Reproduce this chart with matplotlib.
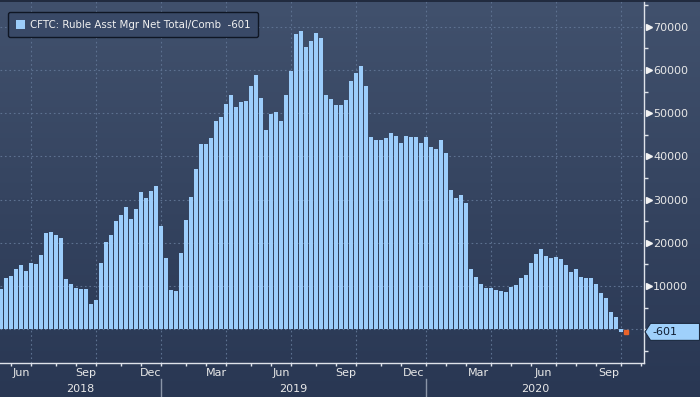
import numpy as np
import pandas as pd
import matplotlib
matplotlib.use('Agg')
import matplotlib.pyplot as plt
from matplotlib.transforms import blended_transform_factory
from matplotlib.patches import Polygon
from matplotlib.lines import Line2D

# weekly CFTC data (Tuesdays), May 22 2018 .. Oct 6 2020
start = '2018-05-22'
values = [
    9300, 11800, 12300, 13900, 14800, 13500, 15300, 15100, 17200, 22200,
    22600, 21800, 21200, 11600, 10500, 9500, 9300, 9300, 5800, 6800,
    15300, 20200, 21800, 25000, 26400, 28200, 25500, 27800, 31700, 30300,
    31900, 33200, 23800, 16500, 9100, 8800, 17600, 25200, 30500, 37000,
    42800, 42800, 44200, 48300, 49200, 52200, 54300, 51500, 52500, 52900,
    56200, 58900, 53600, 46000, 49700, 50200, 48300, 54300, 59800, 68200,
    69100, 65200, 66600, 68500, 67400, 54200, 53300, 51900, 51900, 53000,
    57500, 59400, 61000, 56200, 44400, 43700, 43700, 44200, 45300, 44800,
    43200, 44800, 44400, 44400, 43200, 44400, 42100, 41800, 43700, 40700,
    32200, 30300, 31000, 29200, 13900, 12100, 10500, 9500, 9500, 9100,
    8800, 8600, 9800, 10200, 11800, 12500, 15300, 17400, 18500, 16900,
    16500, 16700, 16200, 14800, 13200, 13900, 12100, 11800, 11800, 10500,
    8400, 7200, 4000, 2800, -601,
]
last_value = -601
series_label = 'CFTC: Ruble Asst Mgr Net Total/Comb  -601'
month_names = {3: 'Mar', 6: 'Jun', 9: 'Sep', 12: 'Dec'}
y_labels = [10000, 20000, 30000, 40000, 50000, 60000, 70000]

W, H = 700, 397
fig = plt.figure(figsize=(W / 100, H / 100), dpi=100)
plt.rcParams['font.family'] = ['DejaVu Sans']

# background gradient over whole figure
bg = fig.add_axes([0, 0, 1, 1], zorder=-10)
grad = np.linspace(0, 1, 256)[:, None]
top_c = np.array([0x41, 0x51, 0x6d]) / 255
bot_c = np.array([0x29, 0x37, 0x53]) / 255
img = top_c[None, None, :] * (1 - grad[:, :, None]) + bot_c[None, None, :] * grad[:, :, None]
bg.imshow(img, aspect='auto', extent=[0, 1, 0, 1])
bg.axis('off')

ax_l, ax_r, ax_t, ax_b = 0, 644.3, 1, 362.7
ax = fig.add_axes([ax_l / W, 1 - ax_b / H, (ax_r - ax_l) / W, (ax_b - ax_t) / H])
ax.set_facecolor('none')

n = len(values)
axis_dates = pd.date_range(start, periods=n + 4, freq='W-TUE')
x = np.arange(n)

ymin, ymax = -7730, 75950
xmin, xmax = -0.2, 128.66
ax.set_xlim(xmin, xmax)
ax.set_ylim(ymin, ymax)

bar_color = '#9ccdfb'
bars = ax.bar(x, values, width=0.62, color=bar_color, linewidth=0, zorder=3)
ax.plot([n], [last_value], marker='s', ms=3, color='#e8632b', ls='none', zorder=4, clip_on=False)

# month starts (first weekly point of each month)
month_starts = [i for i in range(1, len(axis_dates)) if axis_dates[i].month != axis_dates[i - 1].month]
quarter_starts = [i for i in month_starts if axis_dates[i].month in (1, 4, 7, 10)]
year_starts = [i for i in month_starts if axis_dates[i].month == 1]

grid_c = '#5d7190'
for i in quarter_starts:
    ax.axvline(i, color=grid_c, lw=0.8, ls=(0, (1.5, 2.5)), zorder=1)
for v in range(0, 80000, 10000):
    ax.axhline(v, color=grid_c, lw=0.8, ls=(0, (1.5, 2.5)), zorder=1)

# month labels centered inside the month
lab_pos, lab_txt = [], []
for k, i in enumerate(month_starts[:-1]):
    m = axis_dates[i].month
    if m in month_names:
        lab_pos.append((i + month_starts[k + 1]) / 2)
        lab_txt.append(month_names[m])
ax.set_xticks(lab_pos)
ax.set_xticklabels(lab_txt)
ax.set_xticks(month_starts, minor=True)
ax.tick_params(axis='x', which='major', length=0, pad=4, labelsize=8, colors='#e8e8e8')
ax.tick_params(axis='x', which='minor', length=2.5, width=1, direction='out', color='#e0e4ea')

# year labels and separators
trans_x = blended_transform_factory(ax.transData, ax.transAxes)
ah = ax_b - ax_t
edges = [xmin] + year_starts + [xmax]
for k in range(len(edges) - 1):
    yr = axis_dates[0].year + k
    ax.text((edges[k] + edges[k + 1]) / 2, -(388.5 - ax_b) / ah, str(yr), transform=trans_x,
            ha='center', va='center', fontsize=8, color='#e8e8e8')
for i in year_starts:
    ax.plot([i, i], [-(379 - ax_b) / ah, -(H - ax_b) / ah], transform=trans_x,
            color='#8a95a8', lw=1, clip_on=False)

# right y axis
ax.yaxis.tick_right()
ax.set_yticks(y_labels)
ax.set_yticklabels([str(v) for v in y_labels])
ax.set_yticks(np.arange(-5000, 80000, 5000), minor=True)
ax.tick_params(axis='y', which='major', length=0, pad=6.5, labelsize=8, colors='#e8e8e8')
ax.tick_params(axis='y', which='minor', length=3, width=1, direction='out', color='#e0e4ea')
trans_fy = blended_transform_factory(fig.transFigure, ax.transData)
ax.plot(np.full(len(y_labels), 648.5 / W), y_labels, marker='>', ms=4.5, ls='none',
        color='#f2f2f2', transform=trans_fy, clip_on=False)

for s in ['top', 'left']:
    ax.spines[s].set_visible(False)
for s in ['bottom', 'right']:
    ax.spines[s].set_color('#dfe3ea')
    ax.spines[s].set_linewidth(1)

# last value tag
dpp = (ymax - ymin) / ah
hh = 8.5 * dpp
tag = Polygon([(645 / W, last_value), (650.5 / W, last_value + hh), (699.5 / W, last_value + hh),
               (699.5 / W, last_value - hh), (650.5 / W, last_value - hh)],
              closed=True, transform=trans_fy, facecolor='#9fd0fb', edgecolor='#1c2a40',
              lw=0.8, clip_on=False, zorder=5)
ax.add_patch(tag)
ax.text(652 / W, last_value, str(last_value), transform=trans_fy, ha='left', va='center',
        fontsize=8, color='#0f1d33', zorder=6, clip_on=False)

leg = ax.legend([bars], [series_label], loc='upper left', bbox_to_anchor=(8 / W, 1 - 12 / H),
                bbox_transform=fig.transFigure, borderaxespad=0, fontsize=7.4, fancybox=True,
                handlelength=0.95, handleheight=0.95, handletextpad=0.45, borderpad=0.75,
                labelcolor='#f0f0f0', facecolor='#394967', edgecolor='#0f1624', framealpha=1)
leg.get_frame().set_linewidth(1)

fig.add_artist(Line2D([0, 1], [1 - 0.5 / H, 1 - 0.5 / H], color='#1b2436', lw=1.2))

fig.savefig('out.png', dpi=100)
